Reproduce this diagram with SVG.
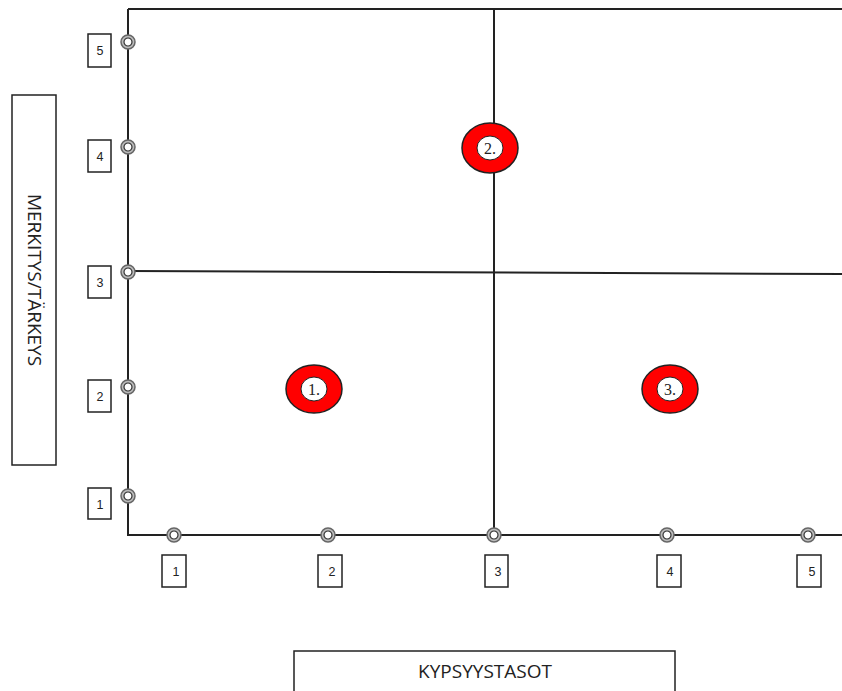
<svg xmlns="http://www.w3.org/2000/svg" width="842" height="691" viewBox="0 0 842 691">
<defs>
<style>
.ln{stroke:#222;stroke-width:2;fill:none}
.box{fill:#fff;stroke:#222;stroke-width:1.5}
.num{font-family:"Liberation Sans",Arial,sans-serif;font-size:12.5px;fill:#222;text-anchor:middle}
.lab{font-family:"Open Sans","Liberation Sans",sans-serif;font-size:19px;fill:#222;text-anchor:middle}
.el{fill:#ff0000;stroke:#222;stroke-width:1.5}
.hole{fill:#fff;stroke:#222;stroke-width:1}
.et{font-family:"Liberation Serif",serif;font-size:16px;fill:#222;text-anchor:middle}
</style>
<g id="mk">
<circle r="7" fill="#bbb" stroke="#666" stroke-width="1.5"/>
<circle r="4" fill="#fff" stroke="#333" stroke-width="1.2"/>
</g>
</defs>
<rect width="842" height="691" fill="#fff"/>
<g id="connectors">
<path class="ln" d="M128,9 H842"/>
<path class="ln" d="M128,9 V535 H842"/>
<path class="ln" d="M494,9 V535"/>
<path class="ln" d="M128,271 L842,274"/>
</g>
<g id="y-markers">
<use href="#mk" x="128" y="42"/>
<use href="#mk" x="128" y="147"/>
<use href="#mk" x="128" y="272"/>
<use href="#mk" x="128" y="387"/>
<use href="#mk" x="128" y="496"/>
</g>
<g id="x-markers">
<use href="#mk" x="174" y="535"/>
<use href="#mk" x="328" y="535"/>
<use href="#mk" x="494" y="535"/>
<use href="#mk" x="667" y="535"/>
<use href="#mk" x="808" y="535"/>
</g>
<g id="y5"><rect class="box" x="88" y="34" width="23" height="33"/><text class="num" x="100" y="55">5</text></g>
<g id="y4"><rect class="box" x="88" y="140" width="23" height="32"/><text class="num" x="100" y="161">4</text></g>
<g id="y3"><rect class="box" x="88" y="266" width="23" height="32"/><text class="num" x="100" y="287">3</text></g>
<g id="y2"><rect class="box" x="88" y="380" width="23" height="32"/><text class="num" x="100" y="401">2</text></g>
<g id="y1"><rect class="box" x="88" y="488" width="23" height="31"/><text class="num" x="100" y="509">1</text></g>
<g id="x1"><rect class="box" x="162" y="555" width="24" height="32"/><text class="num" x="176" y="576">1</text></g>
<g id="x2"><rect class="box" x="318" y="555" width="24" height="32"/><text class="num" x="332" y="576">2</text></g>
<g id="x3"><rect class="box" x="485" y="555" width="23" height="32"/><text class="num" x="498" y="576">3</text></g>
<g id="x4"><rect class="box" x="657" y="555" width="24" height="32"/><text class="num" x="670" y="576">4</text></g>
<g id="x5"><rect class="box" x="797" y="555" width="24" height="32"/><text class="num" x="812" y="576">5</text></g>
<g id="ylabel"><rect class="box" x="12" y="95" width="44" height="370"/><text class="lab" transform="translate(28,280) rotate(90)">MERKITYS/TÄRKEYS</text></g>
<g id="xlabel"><rect class="box" x="294" y="651" width="381" height="45"/><text class="lab" x="485" y="678">KYPSYYSTASOT</text></g>
<g id="p2"><ellipse class="el" cx="490" cy="148" rx="28" ry="25"/><ellipse class="hole" cx="490" cy="148" rx="13" ry="12"/><text class="et" x="490" y="154">2.</text></g>
<g id="p1"><ellipse class="el" cx="314" cy="389" rx="28" ry="24"/><ellipse class="hole" cx="314" cy="389" rx="13" ry="12"/><text class="et" x="314" y="395">1.</text></g>
<g id="p3"><ellipse class="el" cx="670" cy="389" rx="28" ry="24"/><ellipse class="hole" cx="670" cy="389" rx="13" ry="12"/><text class="et" x="670" y="395">3.</text></g>
</svg>
